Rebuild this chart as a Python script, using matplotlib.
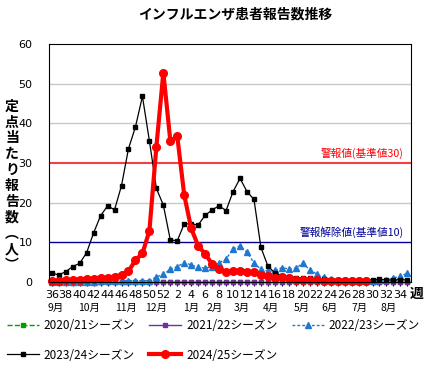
import matplotlib
matplotlib.use('Agg')
import matplotlib.pyplot as plt
import matplotlib.transforms as mtransforms
import numpy as np

plt.rcParams['font.family'] = ['Noto Sans CJK JP', 'DejaVu Sans']

# weeks 36 .. 52, 1 .. 35
weeks = list(range(36, 53)) + list(range(1, 36))
week_labels = [str(w) if w % 2 == 0 else '' for w in weeks]

months = ['9月', '10月', '11月', '12月', '1月', '2月', '3月', '4月', '5月', '6月', '7月', '8月']
month_pos = [0.6, 5.35, 10.7, 15.0, 20.0, 23.3, 27.2, 31.5, 35.9, 39.8, 44.1, 48.3]

season_names = ['2020/21シーズン', '2021/22シーズン', '2022/23シーズン',
                '2023/24シーズン', '2024/25シーズン']

s2020 = [0.0] * 52
s2021 = [0.0] * 52
s2022 = [0.1, 0.1, 0.1, 0.1, 0.1, 0.1, 0.1, 0.2, 0.2, 0.2, 0.3, 0.3, 0.3,
         0.3, 0.3, 1.3, 1.9, 3.2, 3.9, 4.9, 4.3, 3.7, 3.5, 3.8, 4.8, 5.8,
         8.3, 9.1, 7.5, 4.8, 3.2, 2.7, 2.9, 3.6, 3.3, 3.5, 4.7, 3.1, 2.0,
         1.2, 0.7, 0.5, 0.4, 0.3, 0.3, 0.3, 0.3, 0.4, 0.5, 1.0, 1.5, 2.2]
s2023 = [2.2, 1.8, 2.6, 3.9, 4.7, 7.4, 12.4, 16.7, 19.2, 18.2, 24.3, 33.6,
         39.1, 46.8, 35.6, 23.6, 19.4, 10.6, 10.4, 14.7, 14.6, 14.4, 16.8,
         18.2, 19.2, 18.0, 22.8, 26.1, 22.8, 20.8, 8.7, 4.0, 2.3, 1.6, 1.3,
         1.1, 1.0, 0.9, 0.8, 0.7, 0.6, 0.5, 0.5, 0.4, 0.4, 0.4, 0.6, 0.7,
         0.5, 0.5, 0.6, 0.5]
s2024 = [0.3, 0.3, 0.4, 0.5, 0.6, 0.7, 0.8, 1.0, 0.9, 1.3, 1.8, 2.7, 5.5,
         7.2, 12.9, 34.1, 52.8, 35.6, 36.7, 21.9, 13.5, 9.1, 7.1, 4.5, 3.2,
         2.4, 2.8, 2.8, 2.6, 2.4, 1.8, 1.6, 1.1, 1.2, 0.9, 0.5, 0.5, 0.4,
         0.4, 0.3, 0.3, 0.3, 0.3, 0.3, 0.3, 0.3]

alarm = 30
alarm_off = 10

fig = plt.figure(figsize=(4.29, 3.69), dpi=100)
ax = fig.add_axes([49 / 429, 1 - 282 / 369, 361.5 / 429, 238 / 369])

x = np.arange(len(weeks))
ax.plot(x, s2020, color='#00a000', ls='--', lw=1, marker='s', ms=2.5, clip_on=False)
ax.plot(x, s2021, color='#7030a0', ls='-', lw=1, marker='s', ms=3.5, clip_on=False)
ax.plot(x, s2022, color='#1e78d0', ls=(0, (2, 1.5)), lw=1, marker='^', ms=4.5, clip_on=False)
ax.plot(x, s2023, color='black', ls='-', lw=0.9, marker='s', ms=3.5, clip_on=False)
ax.plot(np.arange(len(s2024)), s2024, color='#ff0000', lw=3, marker='o', ms=5.5, clip_on=False)

ax.axhline(alarm, color='#f04040', lw=1.5, zorder=1)
ax.axhline(alarm_off, color='#000099', lw=1, zorder=1)
for v in [20, 40, 50]:
    ax.axhline(v, color='#c8c8c8', lw=1, zorder=0)

ax.text(50.5, 31.0, '警報値(基準値30)', color='red', fontsize=7.7, ha='right', va='bottom')
ax.text(50.5, 11.0, '警報解除値(基準値10)', color='#000099', fontsize=7.7, ha='right', va='bottom')

ax.set_xlim(-0.4, 51.45)
ax.set_ylim(0, 60)
ax.set_yticks(range(0, 61, 10))
ax.set_xticks(x)
ax.set_xticklabels(week_labels, family='DejaVu Sans', fontsize=8)
ax.tick_params(axis='x', length=3, pad=3, width=0.8)
ax.tick_params(axis='y', length=0, pad=12, labelsize=8)
for lab in ax.get_yticklabels():
    lab.set_family('DejaVu Sans')

trans = mtransforms.blended_transform_factory(ax.transData, ax.transAxes)
for m, p in zip(months, month_pos):
    ax.text(p, -0.11, m, transform=trans, ha='center', va='center', fontsize=7.5)

ax.text(1.018, -0.05, '週', transform=ax.transAxes, ha='center', va='center',
        fontsize=10, fontweight='bold')

fig.text(235 / 429, 1 - 15 / 369, 'インフルエンザ患者報告数推移', ha='center', va='center',
         fontsize=10, fontweight='bold')
fig.text(12 / 429, 1 - 186 / 369, '\n'.join('定点当たり報告数︵人︶'), ha='center', va='center',
         fontsize=10, fontweight='bold', linespacing=1.17)

h = ax.get_lines()[:5]
order = [0, 3, 1, 4, 2]
fig.legend([h[i] for i in order], [season_names[i] for i in order], ncol=3,
           loc='upper left', bbox_to_anchor=(7 / 429, 1 - 319 / 369), frameon=False,
           fontsize=8.5, handlelength=2.7, handletextpad=0.42, columnspacing=1.2,
           labelspacing=1.4, borderpad=0, borderaxespad=0)

fig.savefig('out.png', dpi=100)
